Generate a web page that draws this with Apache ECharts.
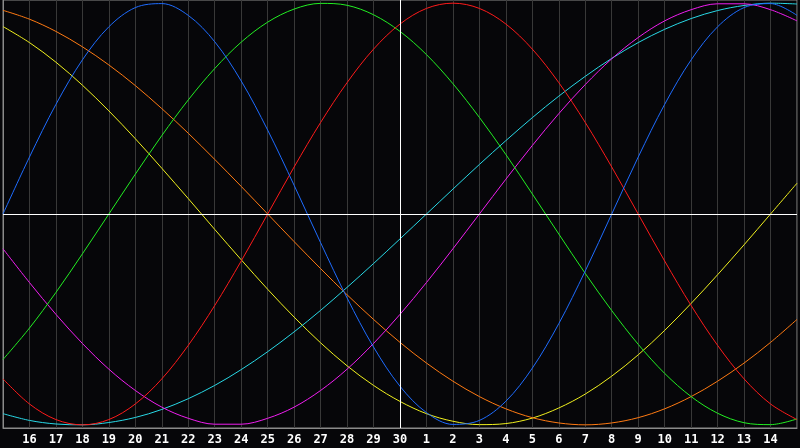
<!DOCTYPE html>
<html>
<head>
<meta charset="utf-8">
<script src="https://cdn.jsdelivr.net/npm/echarts@6/dist/echarts.min.js"></script>
<style>
html,body{margin:0;padding:0;background:#060609;}
#c{width:800px;height:448px;}
</style>
</head>
<body>
<div id="c"></div>
<script>
// Day labels for x positions 0..30 (edges unlabeled)
var dayLabels = ['', '16','17','18','19','20','21','22','23','24','25','26','27','28','29','30',
  '1','2','3','4','5','6','7','8','9','10','11','12','13','14', ''];

// Values (percent) at each day position 0..30
var physical23 = [0, 27.0, 52.0, 73.1, 88.8, 97.9, 99.8, 94.2, 81.7, 63.1, 39.8, 13.6, -13.6, -39.8, -63.1, -81.7,
  -94.2, -99.8, -97.9, -88.8, -73.1, -52.0, -27.0, 0, 27.0, 52.0, 73.1, 88.8, 97.9, 99.8, 94.2];
var emotional28 = [-78.2, -90.1, -97.5, -100, -97.5, -90.1, -78.2, -62.3, -43.4, -22.3, 0, 22.3, 43.4, 62.3, 78.2, 90.1,
  97.5, 100, 97.5, 90.1, 78.2, 62.3, 43.4, 22.3, 0, -22.3, -43.4, -62.3, -78.2, -90.1, -97.5];
var intellectual33 = [-69.0, -54.1, -37.2, -18.9, 0, 18.9, 37.2, 54.1, 69.0, 81.5, 91.0, 97.2, 99.9, 99.0, 94.5, 86.6,
  75.6, 61.8, 45.8, 28.2, 9.5, -9.5, -28.2, -45.8, -61.8, -75.6, -86.6, -94.5, -99.0, -99.9, -97.2];
var intuitive38 = [-16.5, -32.5, -47.6, -61.4, -73.6, -83.7, -91.6, -96.9, -99.7, -99.7, -96.9, -91.6, -83.7, -73.6, -61.4, -47.6,
  -32.5, -16.5, 0, 16.5, 32.5, 47.6, 61.4, 73.6, 83.7, 91.6, 96.9, 99.7, 99.7, 96.9, 91.6];
var aesthetic43 = [88.9, 81.3, 72.0, 61.1, 48.9, 35.7, 21.7, 7.3, -7.3, -21.7, -35.7, -48.9, -61.1, -72.0, -81.3, -88.9,
  -94.7, -98.3, -99.9, -99.4, -96.8, -92.0, -85.4, -76.9, -66.8, -55.2, -42.4, -28.8, -14.6, 0, 14.6];
var awareness48 = [96.6, 92.4, 86.6, 79.3, 70.7, 60.9, 50.0, 38.3, 25.9, 13.1, 0, -13.1, -25.9, -38.3, -50.0, -60.9,
  -70.7, -79.3, -86.6, -92.4, -96.6, -99.1, -100, -99.1, -96.6, -92.4, -86.6, -79.3, -70.7, -60.9, -50.0];
var spiritual53 = [-94.7, -97.9, -99.6, -100.0, -98.9, -96.5, -92.7, -87.6, -81.3, -73.8, -65.3, -55.9, -45.7, -34.8, -23.5, -11.8,
  0, 11.8, 23.5, 34.8, 45.7, 55.9, 65.3, 73.8, 81.3, 87.6, 92.7, 96.5, 98.9, 100.0, 99.6];

var seriesDefs = [
  {name: 'Aesthetic', data: aesthetic43, color: '#f0f01e'},
  {name: 'Awareness', data: awareness48, color: '#ff7a12'},
  {name: 'Spiritual', data: spiritual53, color: '#28d8e6'},
  {name: 'Intuitive', data: intuitive38, color: '#f01ef0'},
  {name: 'Intellectual', data: intellectual33, color: '#22ee22'},
  {name: 'Emotional', data: emotional28, color: '#ff1a1a'},
  {name: 'Physical', data: physical23, color: '#1e6cff'}
];

function pairs(arr) {
  return arr.map(function (v, i) { return [i, v]; });
}

var series = seriesDefs.map(function (d) {
  return {
    name: d.name,
    type: 'line',
    data: pairs(d.data),
    smooth: 0.34,
    symbol: 'none',
    lineStyle: {color: d.color, width: 1},
    itemStyle: {color: d.color},
    z: 3
  };
});

series.push({
  type: 'line',
  data: [],
  silent: true,
  z: 2,
  markLine: {
    silent: true,
    symbol: 'none',
    label: {show: false},
    lineStyle: {color: '#ffffff', width: 1, type: 'solid'},
    data: [{yAxis: 0}, {xAxis: 15}]
  }
});

var chart = echarts.init(document.getElementById('c'), null, {renderer: 'canvas'});
chart.setOption({
  backgroundColor: '#060609',
  animation: false,
  grid: {left: 0, right: 1, top: 0, bottom: 20, show: true, borderColor: '#8a8a8a', borderWidth: 1, backgroundColor: 'transparent'},
  xAxis: {
    type: 'value',
    min: 0,
    max: 30,
    interval: 1,
    axisLine: {show: true, onZero: false, lineStyle: {color: '#8a8a8a', width: 1}},
    axisTick: {show: false},
    splitLine: {show: true, lineStyle: {color: '#383838', width: 1}},
    axisLabel: {
      color: '#ffffff',
      fontFamily: 'DejaVu Sans Mono',
      fontWeight: 'bold',
      fontSize: 12,
      margin: 6,
      showMinLabel: true,
      showMaxLabel: true,
      formatter: function (v) { return dayLabels[Math.round(v)] || ''; }
    }
  },
  yAxis: {
    type: 'value',
    min: -101.5,
    max: 101.5,
    axisLine: {show: true, onZero: false, lineStyle: {color: '#8a8a8a'}},
    axisTick: {show: false},
    axisLabel: {show: false},
    splitLine: {show: false}
  },
  series: series
});
</script>
</body>
</html>
